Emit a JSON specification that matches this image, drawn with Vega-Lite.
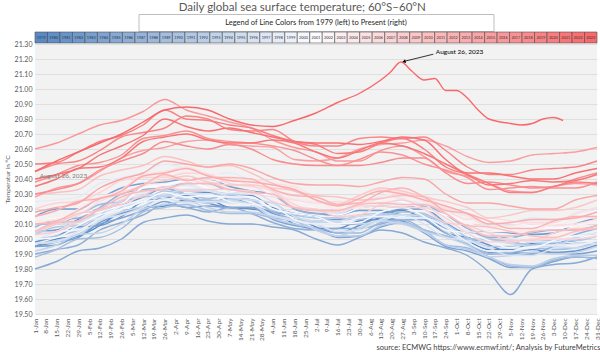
{
"$schema":"https://vega.github.io/schema/vega-lite/v6.json",
"background":"white",
"padding":{"left":4,"right":3,"top":2,"bottom":2},
"config":{"font":"Lato","view":{"stroke":null},"axis":{"labelOverlap":false}},
"title":{"text":"Daily global sea surface temperature; 60°S–60°N","fontSize":11.5,"fontWeight":"normal","color":"#595959","anchor":"middle","offset":0},
"bounds":"flush",
"center":true,
"spacing":1,
"datasets":{"sst":[
{"yr":1979,"d":1,"t":19.95},{"yr":1979,"d":15,"t":20.00},{"yr":1979,"d":29,"t":20.02},{"yr":1979,"d":43,"t":20.09},{"yr":1979,"d":57,"t":20.18},{"yr":1979,"d":71,"t":20.21},{"yr":1979,"d":85,"t":20.22},{"yr":1979,"d":99,"t":20.26},{"yr":1979,"d":113,"t":20.26},{"yr":1979,"d":127,"t":20.21},{"yr":1979,"d":141,"t":20.20},{"yr":1979,"d":155,"t":20.18},{"yr":1979,"d":169,"t":20.10},{"yr":1979,"d":183,"t":20.07},{"yr":1979,"d":197,"t":20.07},{"yr":1979,"d":211,"t":20.12},{"yr":1979,"d":225,"t":20.13},{"yr":1979,"d":239,"t":20.13},{"yr":1979,"d":253,"t":20.13},{"yr":1979,"d":267,"t":20.07},{"yr":1979,"d":281,"t":19.99},{"yr":1979,"d":295,"t":19.93},{"yr":1979,"d":309,"t":19.93},{"yr":1979,"d":323,"t":19.97},{"yr":1979,"d":337,"t":19.98},{"yr":1979,"d":351,"t":19.99},{"yr":1979,"d":365,"t":20.02},
{"yr":1980,"d":1,"t":20.05},{"yr":1980,"d":15,"t":20.06},{"yr":1980,"d":29,"t":20.13},{"yr":1980,"d":43,"t":20.20},{"yr":1980,"d":57,"t":20.23},{"yr":1980,"d":71,"t":20.28},{"yr":1980,"d":85,"t":20.34},{"yr":1980,"d":99,"t":20.30},{"yr":1980,"d":113,"t":20.31},{"yr":1980,"d":127,"t":20.30},{"yr":1980,"d":141,"t":20.29},{"yr":1980,"d":155,"t":20.21},{"yr":1980,"d":169,"t":20.17},{"yr":1980,"d":183,"t":20.15},{"yr":1980,"d":197,"t":20.10},{"yr":1980,"d":211,"t":20.10},{"yr":1980,"d":225,"t":20.17},{"yr":1980,"d":239,"t":20.19},{"yr":1980,"d":253,"t":20.13},{"yr":1980,"d":267,"t":20.04},{"yr":1980,"d":281,"t":20.01},{"yr":1980,"d":295,"t":19.96},{"yr":1980,"d":309,"t":19.91},{"yr":1980,"d":323,"t":19.90},{"yr":1980,"d":337,"t":19.95},{"yr":1980,"d":351,"t":19.97},{"yr":1980,"d":365,"t":19.97},
{"yr":1981,"d":1,"t":19.98},{"yr":1981,"d":15,"t":20.02},{"yr":1981,"d":29,"t":20.08},{"yr":1981,"d":43,"t":20.09},{"yr":1981,"d":57,"t":20.15},{"yr":1981,"d":71,"t":20.25},{"yr":1981,"d":85,"t":20.27},{"yr":1981,"d":99,"t":20.29},{"yr":1981,"d":113,"t":20.24},{"yr":1981,"d":127,"t":20.21},{"yr":1981,"d":141,"t":20.21},{"yr":1981,"d":155,"t":20.18},{"yr":1981,"d":169,"t":20.15},{"yr":1981,"d":183,"t":20.08},{"yr":1981,"d":197,"t":20.04},{"yr":1981,"d":211,"t":20.09},{"yr":1981,"d":225,"t":20.14},{"yr":1981,"d":239,"t":20.12},{"yr":1981,"d":253,"t":20.06},{"yr":1981,"d":267,"t":20.02},{"yr":1981,"d":281,"t":19.97},{"yr":1981,"d":295,"t":19.90},{"yr":1981,"d":309,"t":19.91},{"yr":1981,"d":323,"t":19.93},{"yr":1981,"d":337,"t":19.91},{"yr":1981,"d":351,"t":19.92},{"yr":1981,"d":365,"t":19.96},
{"yr":1982,"d":1,"t":19.95},{"yr":1982,"d":15,"t":19.98},{"yr":1982,"d":29,"t":20.01},{"yr":1982,"d":43,"t":20.11},{"yr":1982,"d":57,"t":20.17},{"yr":1982,"d":71,"t":20.21},{"yr":1982,"d":85,"t":20.29},{"yr":1982,"d":99,"t":20.26},{"yr":1982,"d":113,"t":20.24},{"yr":1982,"d":127,"t":20.27},{"yr":1982,"d":141,"t":20.23},{"yr":1982,"d":155,"t":20.17},{"yr":1982,"d":169,"t":20.13},{"yr":1982,"d":183,"t":20.12},{"yr":1982,"d":197,"t":20.13},{"yr":1982,"d":211,"t":20.13},{"yr":1982,"d":225,"t":20.16},{"yr":1982,"d":239,"t":20.20},{"yr":1982,"d":253,"t":20.20},{"yr":1982,"d":267,"t":20.11},{"yr":1982,"d":281,"t":20.04},{"yr":1982,"d":295,"t":20.05},{"yr":1982,"d":309,"t":20.04},{"yr":1982,"d":323,"t":20.03},{"yr":1982,"d":337,"t":20.04},{"yr":1982,"d":351,"t":20.10},{"yr":1982,"d":365,"t":20.14},
{"yr":1983,"d":1,"t":20.15},{"yr":1983,"d":15,"t":20.20},{"yr":1983,"d":29,"t":20.20},{"yr":1983,"d":43,"t":20.27},{"yr":1983,"d":57,"t":20.34},{"yr":1983,"d":71,"t":20.37},{"yr":1983,"d":85,"t":20.38},{"yr":1983,"d":99,"t":20.40},{"yr":1983,"d":113,"t":20.40},{"yr":1983,"d":127,"t":20.35},{"yr":1983,"d":141,"t":20.32},{"yr":1983,"d":155,"t":20.30},{"yr":1983,"d":169,"t":20.20},{"yr":1983,"d":183,"t":20.17},{"yr":1983,"d":197,"t":20.16},{"yr":1983,"d":211,"t":20.19},{"yr":1983,"d":225,"t":20.19},{"yr":1983,"d":239,"t":20.16},{"yr":1983,"d":253,"t":20.15},{"yr":1983,"d":267,"t":20.08},{"yr":1983,"d":281,"t":19.98},{"yr":1983,"d":295,"t":19.91},{"yr":1983,"d":309,"t":19.90},{"yr":1983,"d":323,"t":19.91},{"yr":1983,"d":337,"t":19.91},{"yr":1983,"d":351,"t":19.90},{"yr":1983,"d":365,"t":19.92},
{"yr":1984,"d":1,"t":19.95},{"yr":1984,"d":15,"t":19.96},{"yr":1984,"d":29,"t":20.03},{"yr":1984,"d":43,"t":20.10},{"yr":1984,"d":57,"t":20.14},{"yr":1984,"d":71,"t":20.19},{"yr":1984,"d":85,"t":20.25},{"yr":1984,"d":99,"t":20.21},{"yr":1984,"d":113,"t":20.22},{"yr":1984,"d":127,"t":20.21},{"yr":1984,"d":141,"t":20.21},{"yr":1984,"d":155,"t":20.13},{"yr":1984,"d":169,"t":20.09},{"yr":1984,"d":183,"t":20.07},{"yr":1984,"d":197,"t":20.01},{"yr":1984,"d":211,"t":20.02},{"yr":1984,"d":225,"t":20.08},{"yr":1984,"d":239,"t":20.11},{"yr":1984,"d":253,"t":20.04},{"yr":1984,"d":267,"t":19.95},{"yr":1984,"d":281,"t":19.92},{"yr":1984,"d":295,"t":19.87},{"yr":1984,"d":309,"t":19.81},{"yr":1984,"d":323,"t":19.81},{"yr":1984,"d":337,"t":19.85},{"yr":1984,"d":351,"t":19.88},{"yr":1984,"d":365,"t":19.87},
{"yr":1985,"d":1,"t":19.80},{"yr":1985,"d":15,"t":19.85},{"yr":1985,"d":29,"t":19.92},{"yr":1985,"d":43,"t":19.94},{"yr":1985,"d":57,"t":20.00},{"yr":1985,"d":71,"t":20.11},{"yr":1985,"d":85,"t":20.14},{"yr":1985,"d":99,"t":20.16},{"yr":1985,"d":113,"t":20.12},{"yr":1985,"d":127,"t":20.10},{"yr":1985,"d":141,"t":20.10},{"yr":1985,"d":155,"t":20.08},{"yr":1985,"d":169,"t":20.06},{"yr":1985,"d":183,"t":20.00},{"yr":1985,"d":197,"t":19.96},{"yr":1985,"d":211,"t":20.01},{"yr":1985,"d":225,"t":20.06},{"yr":1985,"d":239,"t":20.04},{"yr":1985,"d":253,"t":19.98},{"yr":1985,"d":267,"t":19.94},{"yr":1985,"d":281,"t":19.89},{"yr":1985,"d":295,"t":19.78},{"yr":1985,"d":309,"t":19.63},{"yr":1985,"d":323,"t":19.80},{"yr":1985,"d":337,"t":19.83},{"yr":1985,"d":351,"t":19.84},{"yr":1985,"d":365,"t":19.88},
{"yr":1986,"d":1,"t":19.90},{"yr":1986,"d":15,"t":19.93},{"yr":1986,"d":29,"t":19.96},{"yr":1986,"d":43,"t":20.06},{"yr":1986,"d":57,"t":20.11},{"yr":1986,"d":71,"t":20.16},{"yr":1986,"d":85,"t":20.23},{"yr":1986,"d":99,"t":20.21},{"yr":1986,"d":113,"t":20.18},{"yr":1986,"d":127,"t":20.21},{"yr":1986,"d":141,"t":20.17},{"yr":1986,"d":155,"t":20.11},{"yr":1986,"d":169,"t":20.07},{"yr":1986,"d":183,"t":20.06},{"yr":1986,"d":197,"t":20.07},{"yr":1986,"d":211,"t":20.07},{"yr":1986,"d":225,"t":20.10},{"yr":1986,"d":239,"t":20.13},{"yr":1986,"d":253,"t":20.13},{"yr":1986,"d":267,"t":20.04},{"yr":1986,"d":281,"t":19.98},{"yr":1986,"d":295,"t":19.99},{"yr":1986,"d":309,"t":19.98},{"yr":1986,"d":323,"t":19.96},{"yr":1986,"d":337,"t":19.97},{"yr":1986,"d":351,"t":20.03},{"yr":1986,"d":365,"t":20.07},
{"yr":1987,"d":1,"t":20.08},{"yr":1987,"d":15,"t":20.13},{"yr":1987,"d":29,"t":20.14},{"yr":1987,"d":43,"t":20.21},{"yr":1987,"d":57,"t":20.30},{"yr":1987,"d":71,"t":20.33},{"yr":1987,"d":85,"t":20.34},{"yr":1987,"d":99,"t":20.37},{"yr":1987,"d":113,"t":20.37},{"yr":1987,"d":127,"t":20.32},{"yr":1987,"d":141,"t":20.31},{"yr":1987,"d":155,"t":20.29},{"yr":1987,"d":169,"t":20.20},{"yr":1987,"d":183,"t":20.17},{"yr":1987,"d":197,"t":20.17},{"yr":1987,"d":211,"t":20.21},{"yr":1987,"d":225,"t":20.22},{"yr":1987,"d":239,"t":20.21},{"yr":1987,"d":253,"t":20.22},{"yr":1987,"d":267,"t":20.16},{"yr":1987,"d":281,"t":20.07},{"yr":1987,"d":295,"t":20.01},{"yr":1987,"d":309,"t":20.01},{"yr":1987,"d":323,"t":20.04},{"yr":1987,"d":337,"t":20.06},{"yr":1987,"d":351,"t":20.06},{"yr":1987,"d":365,"t":20.09},
{"yr":1988,"d":1,"t":20.10},{"yr":1988,"d":15,"t":20.10},{"yr":1988,"d":29,"t":20.16},{"yr":1988,"d":43,"t":20.23},{"yr":1988,"d":57,"t":20.25},{"yr":1988,"d":71,"t":20.29},{"yr":1988,"d":85,"t":20.34},{"yr":1988,"d":99,"t":20.30},{"yr":1988,"d":113,"t":20.30},{"yr":1988,"d":127,"t":20.28},{"yr":1988,"d":141,"t":20.26},{"yr":1988,"d":155,"t":20.18},{"yr":1988,"d":169,"t":20.13},{"yr":1988,"d":183,"t":20.10},{"yr":1988,"d":197,"t":20.04},{"yr":1988,"d":211,"t":20.04},{"yr":1988,"d":225,"t":20.11},{"yr":1988,"d":239,"t":20.13},{"yr":1988,"d":253,"t":20.06},{"yr":1988,"d":267,"t":19.96},{"yr":1988,"d":281,"t":19.94},{"yr":1988,"d":295,"t":19.88},{"yr":1988,"d":309,"t":19.82},{"yr":1988,"d":323,"t":19.81},{"yr":1988,"d":337,"t":19.86},{"yr":1988,"d":351,"t":19.88},{"yr":1988,"d":365,"t":19.87},
{"yr":1989,"d":1,"t":19.88},{"yr":1989,"d":15,"t":19.93},{"yr":1989,"d":29,"t":20.00},{"yr":1989,"d":43,"t":20.01},{"yr":1989,"d":57,"t":20.07},{"yr":1989,"d":71,"t":20.18},{"yr":1989,"d":85,"t":20.21},{"yr":1989,"d":99,"t":20.23},{"yr":1989,"d":113,"t":20.19},{"yr":1989,"d":127,"t":20.17},{"yr":1989,"d":141,"t":20.17},{"yr":1989,"d":155,"t":20.14},{"yr":1989,"d":169,"t":20.12},{"yr":1989,"d":183,"t":20.06},{"yr":1989,"d":197,"t":20.02},{"yr":1989,"d":211,"t":20.07},{"yr":1989,"d":225,"t":20.12},{"yr":1989,"d":239,"t":20.11},{"yr":1989,"d":253,"t":20.06},{"yr":1989,"d":267,"t":20.02},{"yr":1989,"d":281,"t":19.97},{"yr":1989,"d":295,"t":19.90},{"yr":1989,"d":309,"t":19.91},{"yr":1989,"d":323,"t":19.94},{"yr":1989,"d":337,"t":19.93},{"yr":1989,"d":351,"t":19.94},{"yr":1989,"d":365,"t":19.98},
{"yr":1990,"d":1,"t":20.00},{"yr":1990,"d":15,"t":20.02},{"yr":1990,"d":29,"t":20.06},{"yr":1990,"d":43,"t":20.15},{"yr":1990,"d":57,"t":20.21},{"yr":1990,"d":71,"t":20.25},{"yr":1990,"d":85,"t":20.32},{"yr":1990,"d":99,"t":20.30},{"yr":1990,"d":113,"t":20.27},{"yr":1990,"d":127,"t":20.29},{"yr":1990,"d":141,"t":20.26},{"yr":1990,"d":155,"t":20.19},{"yr":1990,"d":169,"t":20.16},{"yr":1990,"d":183,"t":20.14},{"yr":1990,"d":197,"t":20.14},{"yr":1990,"d":211,"t":20.13},{"yr":1990,"d":225,"t":20.15},{"yr":1990,"d":239,"t":20.18},{"yr":1990,"d":253,"t":20.17},{"yr":1990,"d":267,"t":20.07},{"yr":1990,"d":281,"t":20.00},{"yr":1990,"d":295,"t":20.00},{"yr":1990,"d":309,"t":19.98},{"yr":1990,"d":323,"t":19.96},{"yr":1990,"d":337,"t":19.96},{"yr":1990,"d":351,"t":20.01},{"yr":1990,"d":365,"t":20.04},
{"yr":1991,"d":1,"t":20.03},{"yr":1991,"d":15,"t":20.08},{"yr":1991,"d":29,"t":20.09},{"yr":1991,"d":43,"t":20.16},{"yr":1991,"d":57,"t":20.25},{"yr":1991,"d":71,"t":20.28},{"yr":1991,"d":85,"t":20.29},{"yr":1991,"d":99,"t":20.32},{"yr":1991,"d":113,"t":20.32},{"yr":1991,"d":127,"t":20.27},{"yr":1991,"d":141,"t":20.26},{"yr":1991,"d":155,"t":20.24},{"yr":1991,"d":169,"t":20.15},{"yr":1991,"d":183,"t":20.12},{"yr":1991,"d":197,"t":20.12},{"yr":1991,"d":211,"t":20.16},{"yr":1991,"d":225,"t":20.17},{"yr":1991,"d":239,"t":20.16},{"yr":1991,"d":253,"t":20.16},{"yr":1991,"d":267,"t":20.10},{"yr":1991,"d":281,"t":20.01},{"yr":1991,"d":295,"t":19.95},{"yr":1991,"d":309,"t":19.95},{"yr":1991,"d":323,"t":19.98},{"yr":1991,"d":337,"t":19.99},{"yr":1991,"d":351,"t":19.99},{"yr":1991,"d":365,"t":20.02},
{"yr":1992,"d":1,"t":20.05},{"yr":1992,"d":15,"t":20.05},{"yr":1992,"d":29,"t":20.12},{"yr":1992,"d":43,"t":20.18},{"yr":1992,"d":57,"t":20.21},{"yr":1992,"d":71,"t":20.25},{"yr":1992,"d":85,"t":20.30},{"yr":1992,"d":99,"t":20.26},{"yr":1992,"d":113,"t":20.26},{"yr":1992,"d":127,"t":20.25},{"yr":1992,"d":141,"t":20.23},{"yr":1992,"d":155,"t":20.14},{"yr":1992,"d":169,"t":20.10},{"yr":1992,"d":183,"t":20.07},{"yr":1992,"d":197,"t":20.02},{"yr":1992,"d":211,"t":20.02},{"yr":1992,"d":225,"t":20.09},{"yr":1992,"d":239,"t":20.11},{"yr":1992,"d":253,"t":20.05},{"yr":1992,"d":267,"t":19.96},{"yr":1992,"d":281,"t":19.93},{"yr":1992,"d":295,"t":19.88},{"yr":1992,"d":309,"t":19.83},{"yr":1992,"d":323,"t":19.82},{"yr":1992,"d":337,"t":19.87},{"yr":1992,"d":351,"t":19.89},{"yr":1992,"d":365,"t":19.89},
{"yr":1993,"d":1,"t":19.92},{"yr":1993,"d":15,"t":19.96},{"yr":1993,"d":29,"t":20.03},{"yr":1993,"d":43,"t":20.04},{"yr":1993,"d":57,"t":20.10},{"yr":1993,"d":71,"t":20.20},{"yr":1993,"d":85,"t":20.23},{"yr":1993,"d":99,"t":20.25},{"yr":1993,"d":113,"t":20.21},{"yr":1993,"d":127,"t":20.18},{"yr":1993,"d":141,"t":20.18},{"yr":1993,"d":155,"t":20.15},{"yr":1993,"d":169,"t":20.13},{"yr":1993,"d":183,"t":20.06},{"yr":1993,"d":197,"t":20.02},{"yr":1993,"d":211,"t":20.07},{"yr":1993,"d":225,"t":20.12},{"yr":1993,"d":239,"t":20.10},{"yr":1993,"d":253,"t":20.05},{"yr":1993,"d":267,"t":20.01},{"yr":1993,"d":281,"t":19.96},{"yr":1993,"d":295,"t":19.88},{"yr":1993,"d":309,"t":19.89},{"yr":1993,"d":323,"t":19.91},{"yr":1993,"d":337,"t":19.90},{"yr":1993,"d":351,"t":19.91},{"yr":1993,"d":365,"t":19.95},
{"yr":1994,"d":1,"t":19.97},{"yr":1994,"d":15,"t":19.99},{"yr":1994,"d":29,"t":20.03},{"yr":1994,"d":43,"t":20.12},{"yr":1994,"d":57,"t":20.18},{"yr":1994,"d":71,"t":20.22},{"yr":1994,"d":85,"t":20.29},{"yr":1994,"d":99,"t":20.27},{"yr":1994,"d":113,"t":20.24},{"yr":1994,"d":127,"t":20.26},{"yr":1994,"d":141,"t":20.23},{"yr":1994,"d":155,"t":20.16},{"yr":1994,"d":169,"t":20.13},{"yr":1994,"d":183,"t":20.11},{"yr":1994,"d":197,"t":20.11},{"yr":1994,"d":211,"t":20.10},{"yr":1994,"d":225,"t":20.12},{"yr":1994,"d":239,"t":20.16},{"yr":1994,"d":253,"t":20.15},{"yr":1994,"d":267,"t":20.05},{"yr":1994,"d":281,"t":19.98},{"yr":1994,"d":295,"t":19.99},{"yr":1994,"d":309,"t":19.97},{"yr":1994,"d":323,"t":19.95},{"yr":1994,"d":337,"t":19.95},{"yr":1994,"d":351,"t":20.01},{"yr":1994,"d":365,"t":20.04},
{"yr":1995,"d":1,"t":20.05},{"yr":1995,"d":15,"t":20.10},{"yr":1995,"d":29,"t":20.11},{"yr":1995,"d":43,"t":20.18},{"yr":1995,"d":57,"t":20.26},{"yr":1995,"d":71,"t":20.29},{"yr":1995,"d":85,"t":20.30},{"yr":1995,"d":99,"t":20.33},{"yr":1995,"d":113,"t":20.33},{"yr":1995,"d":127,"t":20.28},{"yr":1995,"d":141,"t":20.26},{"yr":1995,"d":155,"t":20.24},{"yr":1995,"d":169,"t":20.15},{"yr":1995,"d":183,"t":20.12},{"yr":1995,"d":197,"t":20.12},{"yr":1995,"d":211,"t":20.15},{"yr":1995,"d":225,"t":20.16},{"yr":1995,"d":239,"t":20.14},{"yr":1995,"d":253,"t":20.14},{"yr":1995,"d":267,"t":20.08},{"yr":1995,"d":281,"t":19.98},{"yr":1995,"d":295,"t":19.92},{"yr":1995,"d":309,"t":19.92},{"yr":1995,"d":323,"t":19.94},{"yr":1995,"d":337,"t":19.95},{"yr":1995,"d":351,"t":19.94},{"yr":1995,"d":365,"t":19.97},
{"yr":1996,"d":1,"t":19.97},{"yr":1996,"d":15,"t":19.98},{"yr":1996,"d":29,"t":20.05},{"yr":1996,"d":43,"t":20.13},{"yr":1996,"d":57,"t":20.16},{"yr":1996,"d":71,"t":20.21},{"yr":1996,"d":85,"t":20.27},{"yr":1996,"d":99,"t":20.24},{"yr":1996,"d":113,"t":20.25},{"yr":1996,"d":127,"t":20.24},{"yr":1996,"d":141,"t":20.23},{"yr":1996,"d":155,"t":20.16},{"yr":1996,"d":169,"t":20.12},{"yr":1996,"d":183,"t":20.10},{"yr":1996,"d":197,"t":20.05},{"yr":1996,"d":211,"t":20.06},{"yr":1996,"d":225,"t":20.13},{"yr":1996,"d":239,"t":20.16},{"yr":1996,"d":253,"t":20.10},{"yr":1996,"d":267,"t":20.01},{"yr":1996,"d":281,"t":19.99},{"yr":1996,"d":295,"t":19.94},{"yr":1996,"d":309,"t":19.89},{"yr":1996,"d":323,"t":19.89},{"yr":1996,"d":337,"t":19.94},{"yr":1996,"d":351,"t":19.97},{"yr":1996,"d":365,"t":19.97},
{"yr":1997,"d":1,"t":20.00},{"yr":1997,"d":15,"t":20.05},{"yr":1997,"d":29,"t":20.12},{"yr":1997,"d":43,"t":20.14},{"yr":1997,"d":57,"t":20.20},{"yr":1997,"d":71,"t":20.31},{"yr":1997,"d":85,"t":20.34},{"yr":1997,"d":99,"t":20.36},{"yr":1997,"d":113,"t":20.32},{"yr":1997,"d":127,"t":20.30},{"yr":1997,"d":141,"t":20.30},{"yr":1997,"d":155,"t":20.28},{"yr":1997,"d":169,"t":20.26},{"yr":1997,"d":183,"t":20.20},{"yr":1997,"d":197,"t":20.17},{"yr":1997,"d":211,"t":20.23},{"yr":1997,"d":225,"t":20.28},{"yr":1997,"d":239,"t":20.27},{"yr":1997,"d":253,"t":20.23},{"yr":1997,"d":267,"t":20.20},{"yr":1997,"d":281,"t":20.15},{"yr":1997,"d":295,"t":20.09},{"yr":1997,"d":309,"t":20.11},{"yr":1997,"d":323,"t":20.14},{"yr":1997,"d":337,"t":20.13},{"yr":1997,"d":351,"t":20.15},{"yr":1997,"d":365,"t":20.20},
{"yr":1998,"d":1,"t":20.25},{"yr":1998,"d":15,"t":20.26},{"yr":1998,"d":29,"t":20.28},{"yr":1998,"d":43,"t":20.37},{"yr":1998,"d":57,"t":20.41},{"yr":1998,"d":71,"t":20.44},{"yr":1998,"d":85,"t":20.50},{"yr":1998,"d":99,"t":20.47},{"yr":1998,"d":113,"t":20.43},{"yr":1998,"d":127,"t":20.44},{"yr":1998,"d":141,"t":20.39},{"yr":1998,"d":155,"t":20.32},{"yr":1998,"d":169,"t":20.27},{"yr":1998,"d":183,"t":20.24},{"yr":1998,"d":197,"t":20.23},{"yr":1998,"d":211,"t":20.21},{"yr":1998,"d":225,"t":20.23},{"yr":1998,"d":239,"t":20.25},{"yr":1998,"d":253,"t":20.23},{"yr":1998,"d":267,"t":20.12},{"yr":1998,"d":281,"t":20.05},{"yr":1998,"d":295,"t":20.04},{"yr":1998,"d":309,"t":20.01},{"yr":1998,"d":323,"t":19.98},{"yr":1998,"d":337,"t":19.98},{"yr":1998,"d":351,"t":20.02},{"yr":1998,"d":365,"t":20.04},
{"yr":1999,"d":1,"t":20.00},{"yr":1999,"d":15,"t":20.05},{"yr":1999,"d":29,"t":20.06},{"yr":1999,"d":43,"t":20.14},{"yr":1999,"d":57,"t":20.22},{"yr":1999,"d":71,"t":20.25},{"yr":1999,"d":85,"t":20.26},{"yr":1999,"d":99,"t":20.30},{"yr":1999,"d":113,"t":20.30},{"yr":1999,"d":127,"t":20.25},{"yr":1999,"d":141,"t":20.23},{"yr":1999,"d":155,"t":20.22},{"yr":1999,"d":169,"t":20.13},{"yr":1999,"d":183,"t":20.10},{"yr":1999,"d":197,"t":20.10},{"yr":1999,"d":211,"t":20.14},{"yr":1999,"d":225,"t":20.15},{"yr":1999,"d":239,"t":20.14},{"yr":1999,"d":253,"t":20.14},{"yr":1999,"d":267,"t":20.08},{"yr":1999,"d":281,"t":19.98},{"yr":1999,"d":295,"t":19.92},{"yr":1999,"d":309,"t":19.92},{"yr":1999,"d":323,"t":19.95},{"yr":1999,"d":337,"t":19.96},{"yr":1999,"d":351,"t":19.96},{"yr":1999,"d":365,"t":19.99},
{"yr":2000,"d":1,"t":20.00},{"yr":2000,"d":15,"t":20.01},{"yr":2000,"d":29,"t":20.09},{"yr":2000,"d":43,"t":20.16},{"yr":2000,"d":57,"t":20.20},{"yr":2000,"d":71,"t":20.25},{"yr":2000,"d":85,"t":20.31},{"yr":2000,"d":99,"t":20.28},{"yr":2000,"d":113,"t":20.29},{"yr":2000,"d":127,"t":20.28},{"yr":2000,"d":141,"t":20.28},{"yr":2000,"d":155,"t":20.20},{"yr":2000,"d":169,"t":20.17},{"yr":2000,"d":183,"t":20.15},{"yr":2000,"d":197,"t":20.10},{"yr":2000,"d":211,"t":20.11},{"yr":2000,"d":225,"t":20.18},{"yr":2000,"d":239,"t":20.21},{"yr":2000,"d":253,"t":20.15},{"yr":2000,"d":267,"t":20.06},{"yr":2000,"d":281,"t":20.04},{"yr":2000,"d":295,"t":19.99},{"yr":2000,"d":309,"t":19.94},{"yr":2000,"d":323,"t":19.94},{"yr":2000,"d":337,"t":19.99},{"yr":2000,"d":351,"t":20.02},{"yr":2000,"d":365,"t":20.02},
{"yr":2001,"d":1,"t":20.05},{"yr":2001,"d":15,"t":20.10},{"yr":2001,"d":29,"t":20.16},{"yr":2001,"d":43,"t":20.18},{"yr":2001,"d":57,"t":20.23},{"yr":2001,"d":71,"t":20.34},{"yr":2001,"d":85,"t":20.36},{"yr":2001,"d":99,"t":20.39},{"yr":2001,"d":113,"t":20.34},{"yr":2001,"d":127,"t":20.32},{"yr":2001,"d":141,"t":20.31},{"yr":2001,"d":155,"t":20.29},{"yr":2001,"d":169,"t":20.26},{"yr":2001,"d":183,"t":20.20},{"yr":2001,"d":197,"t":20.16},{"yr":2001,"d":211,"t":20.21},{"yr":2001,"d":225,"t":20.27},{"yr":2001,"d":239,"t":20.25},{"yr":2001,"d":253,"t":20.20},{"yr":2001,"d":267,"t":20.16},{"yr":2001,"d":281,"t":20.11},{"yr":2001,"d":295,"t":20.05},{"yr":2001,"d":309,"t":20.06},{"yr":2001,"d":323,"t":20.08},{"yr":2001,"d":337,"t":20.07},{"yr":2001,"d":351,"t":20.09},{"yr":2001,"d":365,"t":20.13},
{"yr":2002,"d":1,"t":20.12},{"yr":2002,"d":15,"t":20.14},{"yr":2002,"d":29,"t":20.17},{"yr":2002,"d":43,"t":20.27},{"yr":2002,"d":57,"t":20.32},{"yr":2002,"d":71,"t":20.36},{"yr":2002,"d":85,"t":20.43},{"yr":2002,"d":99,"t":20.41},{"yr":2002,"d":113,"t":20.38},{"yr":2002,"d":127,"t":20.40},{"yr":2002,"d":141,"t":20.36},{"yr":2002,"d":155,"t":20.30},{"yr":2002,"d":169,"t":20.26},{"yr":2002,"d":183,"t":20.24},{"yr":2002,"d":197,"t":20.24},{"yr":2002,"d":211,"t":20.24},{"yr":2002,"d":225,"t":20.26},{"yr":2002,"d":239,"t":20.29},{"yr":2002,"d":253,"t":20.29},{"yr":2002,"d":267,"t":20.19},{"yr":2002,"d":281,"t":20.12},{"yr":2002,"d":295,"t":20.13},{"yr":2002,"d":309,"t":20.11},{"yr":2002,"d":323,"t":20.09},{"yr":2002,"d":337,"t":20.10},{"yr":2002,"d":351,"t":20.15},{"yr":2002,"d":365,"t":20.19},
{"yr":2003,"d":1,"t":20.20},{"yr":2003,"d":15,"t":20.25},{"yr":2003,"d":29,"t":20.25},{"yr":2003,"d":43,"t":20.32},{"yr":2003,"d":57,"t":20.39},{"yr":2003,"d":71,"t":20.42},{"yr":2003,"d":85,"t":20.43},{"yr":2003,"d":99,"t":20.45},{"yr":2003,"d":113,"t":20.45},{"yr":2003,"d":127,"t":20.40},{"yr":2003,"d":141,"t":20.37},{"yr":2003,"d":155,"t":20.35},{"yr":2003,"d":169,"t":20.25},{"yr":2003,"d":183,"t":20.22},{"yr":2003,"d":197,"t":20.22},{"yr":2003,"d":211,"t":20.26},{"yr":2003,"d":225,"t":20.27},{"yr":2003,"d":239,"t":20.26},{"yr":2003,"d":253,"t":20.26},{"yr":2003,"d":267,"t":20.20},{"yr":2003,"d":281,"t":20.11},{"yr":2003,"d":295,"t":20.05},{"yr":2003,"d":309,"t":20.05},{"yr":2003,"d":323,"t":20.08},{"yr":2003,"d":337,"t":20.09},{"yr":2003,"d":351,"t":20.09},{"yr":2003,"d":365,"t":20.12},
{"yr":2004,"d":1,"t":20.12},{"yr":2004,"d":15,"t":20.13},{"yr":2004,"d":29,"t":20.20},{"yr":2004,"d":43,"t":20.28},{"yr":2004,"d":57,"t":20.31},{"yr":2004,"d":71,"t":20.36},{"yr":2004,"d":85,"t":20.42},{"yr":2004,"d":99,"t":20.39},{"yr":2004,"d":113,"t":20.40},{"yr":2004,"d":127,"t":20.39},{"yr":2004,"d":141,"t":20.38},{"yr":2004,"d":155,"t":20.31},{"yr":2004,"d":169,"t":20.27},{"yr":2004,"d":183,"t":20.25},{"yr":2004,"d":197,"t":20.20},{"yr":2004,"d":211,"t":20.21},{"yr":2004,"d":225,"t":20.28},{"yr":2004,"d":239,"t":20.31},{"yr":2004,"d":253,"t":20.26},{"yr":2004,"d":267,"t":20.17},{"yr":2004,"d":281,"t":20.15},{"yr":2004,"d":295,"t":20.10},{"yr":2004,"d":309,"t":20.05},{"yr":2004,"d":323,"t":20.05},{"yr":2004,"d":337,"t":20.11},{"yr":2004,"d":351,"t":20.14},{"yr":2004,"d":365,"t":20.14},
{"yr":2005,"d":1,"t":20.15},{"yr":2005,"d":15,"t":20.19},{"yr":2005,"d":29,"t":20.26},{"yr":2005,"d":43,"t":20.27},{"yr":2005,"d":57,"t":20.33},{"yr":2005,"d":71,"t":20.43},{"yr":2005,"d":85,"t":20.45},{"yr":2005,"d":99,"t":20.48},{"yr":2005,"d":113,"t":20.43},{"yr":2005,"d":127,"t":20.40},{"yr":2005,"d":141,"t":20.40},{"yr":2005,"d":155,"t":20.37},{"yr":2005,"d":169,"t":20.35},{"yr":2005,"d":183,"t":20.28},{"yr":2005,"d":197,"t":20.24},{"yr":2005,"d":211,"t":20.29},{"yr":2005,"d":225,"t":20.33},{"yr":2005,"d":239,"t":20.31},{"yr":2005,"d":253,"t":20.25},{"yr":2005,"d":267,"t":20.21},{"yr":2005,"d":281,"t":20.16},{"yr":2005,"d":295,"t":20.08},{"yr":2005,"d":309,"t":20.09},{"yr":2005,"d":323,"t":20.11},{"yr":2005,"d":337,"t":20.09},{"yr":2005,"d":351,"t":20.10},{"yr":2005,"d":365,"t":20.13},
{"yr":2006,"d":1,"t":20.10},{"yr":2006,"d":15,"t":20.12},{"yr":2006,"d":29,"t":20.16},{"yr":2006,"d":43,"t":20.25},{"yr":2006,"d":57,"t":20.31},{"yr":2006,"d":71,"t":20.35},{"yr":2006,"d":85,"t":20.42},{"yr":2006,"d":99,"t":20.40},{"yr":2006,"d":113,"t":20.37},{"yr":2006,"d":127,"t":20.39},{"yr":2006,"d":141,"t":20.36},{"yr":2006,"d":155,"t":20.29},{"yr":2006,"d":169,"t":20.26},{"yr":2006,"d":183,"t":20.24},{"yr":2006,"d":197,"t":20.25},{"yr":2006,"d":211,"t":20.24},{"yr":2006,"d":225,"t":20.27},{"yr":2006,"d":239,"t":20.30},{"yr":2006,"d":253,"t":20.29},{"yr":2006,"d":267,"t":20.20},{"yr":2006,"d":281,"t":20.13},{"yr":2006,"d":295,"t":20.14},{"yr":2006,"d":309,"t":20.12},{"yr":2006,"d":323,"t":20.11},{"yr":2006,"d":337,"t":20.11},{"yr":2006,"d":351,"t":20.17},{"yr":2006,"d":365,"t":20.21},
{"yr":2007,"d":1,"t":20.20},{"yr":2007,"d":15,"t":20.24},{"yr":2007,"d":29,"t":20.25},{"yr":2007,"d":43,"t":20.31},{"yr":2007,"d":57,"t":20.39},{"yr":2007,"d":71,"t":20.41},{"yr":2007,"d":85,"t":20.41},{"yr":2007,"d":99,"t":20.44},{"yr":2007,"d":113,"t":20.43},{"yr":2007,"d":127,"t":20.37},{"yr":2007,"d":141,"t":20.35},{"yr":2007,"d":155,"t":20.32},{"yr":2007,"d":169,"t":20.23},{"yr":2007,"d":183,"t":20.19},{"yr":2007,"d":197,"t":20.18},{"yr":2007,"d":211,"t":20.22},{"yr":2007,"d":225,"t":20.22},{"yr":2007,"d":239,"t":20.21},{"yr":2007,"d":253,"t":20.21},{"yr":2007,"d":267,"t":20.14},{"yr":2007,"d":281,"t":20.04},{"yr":2007,"d":295,"t":19.98},{"yr":2007,"d":309,"t":19.98},{"yr":2007,"d":323,"t":20.00},{"yr":2007,"d":337,"t":20.00},{"yr":2007,"d":351,"t":20.00},{"yr":2007,"d":365,"t":20.02},
{"yr":2008,"d":1,"t":20.03},{"yr":2008,"d":15,"t":20.05},{"yr":2008,"d":29,"t":20.12},{"yr":2008,"d":43,"t":20.20},{"yr":2008,"d":57,"t":20.23},{"yr":2008,"d":71,"t":20.29},{"yr":2008,"d":85,"t":20.35},{"yr":2008,"d":99,"t":20.32},{"yr":2008,"d":113,"t":20.33},{"yr":2008,"d":127,"t":20.33},{"yr":2008,"d":141,"t":20.32},{"yr":2008,"d":155,"t":20.25},{"yr":2008,"d":169,"t":20.21},{"yr":2008,"d":183,"t":20.20},{"yr":2008,"d":197,"t":20.15},{"yr":2008,"d":211,"t":20.16},{"yr":2008,"d":225,"t":20.23},{"yr":2008,"d":239,"t":20.26},{"yr":2008,"d":253,"t":20.20},{"yr":2008,"d":267,"t":20.11},{"yr":2008,"d":281,"t":20.09},{"yr":2008,"d":295,"t":20.04},{"yr":2008,"d":309,"t":19.99},{"yr":2008,"d":323,"t":19.99},{"yr":2008,"d":337,"t":20.04},{"yr":2008,"d":351,"t":20.07},{"yr":2008,"d":365,"t":20.07},
{"yr":2009,"d":1,"t":20.05},{"yr":2009,"d":15,"t":20.10},{"yr":2009,"d":29,"t":20.17},{"yr":2009,"d":43,"t":20.19},{"yr":2009,"d":57,"t":20.25},{"yr":2009,"d":71,"t":20.36},{"yr":2009,"d":85,"t":20.39},{"yr":2009,"d":99,"t":20.42},{"yr":2009,"d":113,"t":20.38},{"yr":2009,"d":127,"t":20.36},{"yr":2009,"d":141,"t":20.36},{"yr":2009,"d":155,"t":20.34},{"yr":2009,"d":169,"t":20.32},{"yr":2009,"d":183,"t":20.26},{"yr":2009,"d":197,"t":20.23},{"yr":2009,"d":211,"t":20.29},{"yr":2009,"d":225,"t":20.34},{"yr":2009,"d":239,"t":20.32},{"yr":2009,"d":253,"t":20.28},{"yr":2009,"d":267,"t":20.25},{"yr":2009,"d":281,"t":20.21},{"yr":2009,"d":295,"t":20.14},{"yr":2009,"d":309,"t":20.16},{"yr":2009,"d":323,"t":20.19},{"yr":2009,"d":337,"t":20.19},{"yr":2009,"d":351,"t":20.21},{"yr":2009,"d":365,"t":20.26},
{"yr":2010,"d":1,"t":20.30},{"yr":2010,"d":15,"t":20.31},{"yr":2010,"d":29,"t":20.33},{"yr":2010,"d":43,"t":20.42},{"yr":2010,"d":57,"t":20.46},{"yr":2010,"d":71,"t":20.49},{"yr":2010,"d":85,"t":20.55},{"yr":2010,"d":99,"t":20.52},{"yr":2010,"d":113,"t":20.48},{"yr":2010,"d":127,"t":20.49},{"yr":2010,"d":141,"t":20.44},{"yr":2010,"d":155,"t":20.37},{"yr":2010,"d":169,"t":20.32},{"yr":2010,"d":183,"t":20.29},{"yr":2010,"d":197,"t":20.28},{"yr":2010,"d":211,"t":20.26},{"yr":2010,"d":225,"t":20.27},{"yr":2010,"d":239,"t":20.29},{"yr":2010,"d":253,"t":20.28},{"yr":2010,"d":267,"t":20.17},{"yr":2010,"d":281,"t":20.09},{"yr":2010,"d":295,"t":20.08},{"yr":2010,"d":309,"t":20.05},{"yr":2010,"d":323,"t":20.02},{"yr":2010,"d":337,"t":20.01},{"yr":2010,"d":351,"t":20.05},{"yr":2010,"d":365,"t":20.07},
{"yr":2011,"d":1,"t":20.05},{"yr":2011,"d":15,"t":20.11},{"yr":2011,"d":29,"t":20.12},{"yr":2011,"d":43,"t":20.20},{"yr":2011,"d":57,"t":20.28},{"yr":2011,"d":71,"t":20.32},{"yr":2011,"d":85,"t":20.33},{"yr":2011,"d":99,"t":20.37},{"yr":2011,"d":113,"t":20.37},{"yr":2011,"d":127,"t":20.33},{"yr":2011,"d":141,"t":20.31},{"yr":2011,"d":155,"t":20.30},{"yr":2011,"d":169,"t":20.21},{"yr":2011,"d":183,"t":20.19},{"yr":2011,"d":197,"t":20.19},{"yr":2011,"d":211,"t":20.23},{"yr":2011,"d":225,"t":20.24},{"yr":2011,"d":239,"t":20.23},{"yr":2011,"d":253,"t":20.23},{"yr":2011,"d":267,"t":20.17},{"yr":2011,"d":281,"t":20.08},{"yr":2011,"d":295,"t":20.02},{"yr":2011,"d":309,"t":20.02},{"yr":2011,"d":323,"t":20.05},{"yr":2011,"d":337,"t":20.06},{"yr":2011,"d":351,"t":20.06},{"yr":2011,"d":365,"t":20.09},
{"yr":2012,"d":1,"t":20.10},{"yr":2012,"d":15,"t":20.12},{"yr":2012,"d":29,"t":20.19},{"yr":2012,"d":43,"t":20.27},{"yr":2012,"d":57,"t":20.30},{"yr":2012,"d":71,"t":20.36},{"yr":2012,"d":85,"t":20.43},{"yr":2012,"d":99,"t":20.39},{"yr":2012,"d":113,"t":20.41},{"yr":2012,"d":127,"t":20.41},{"yr":2012,"d":141,"t":20.40},{"yr":2012,"d":155,"t":20.33},{"yr":2012,"d":169,"t":20.29},{"yr":2012,"d":183,"t":20.28},{"yr":2012,"d":197,"t":20.23},{"yr":2012,"d":211,"t":20.24},{"yr":2012,"d":225,"t":20.31},{"yr":2012,"d":239,"t":20.34},{"yr":2012,"d":253,"t":20.28},{"yr":2012,"d":267,"t":20.19},{"yr":2012,"d":281,"t":20.17},{"yr":2012,"d":295,"t":20.12},{"yr":2012,"d":309,"t":20.07},{"yr":2012,"d":323,"t":20.07},{"yr":2012,"d":337,"t":20.12},{"yr":2012,"d":351,"t":20.15},{"yr":2012,"d":365,"t":20.15},
{"yr":2013,"d":1,"t":20.15},{"yr":2013,"d":15,"t":20.19},{"yr":2013,"d":29,"t":20.25},{"yr":2013,"d":43,"t":20.27},{"yr":2013,"d":57,"t":20.32},{"yr":2013,"d":71,"t":20.42},{"yr":2013,"d":85,"t":20.44},{"yr":2013,"d":99,"t":20.47},{"yr":2013,"d":113,"t":20.42},{"yr":2013,"d":127,"t":20.39},{"yr":2013,"d":141,"t":20.38},{"yr":2013,"d":155,"t":20.36},{"yr":2013,"d":169,"t":20.33},{"yr":2013,"d":183,"t":20.26},{"yr":2013,"d":197,"t":20.22},{"yr":2013,"d":211,"t":20.27},{"yr":2013,"d":225,"t":20.32},{"yr":2013,"d":239,"t":20.30},{"yr":2013,"d":253,"t":20.26},{"yr":2013,"d":267,"t":20.22},{"yr":2013,"d":281,"t":20.17},{"yr":2013,"d":295,"t":20.10},{"yr":2013,"d":309,"t":20.11},{"yr":2013,"d":323,"t":20.13},{"yr":2013,"d":337,"t":20.13},{"yr":2013,"d":351,"t":20.14},{"yr":2013,"d":365,"t":20.18},
{"yr":2014,"d":1,"t":20.18},{"yr":2014,"d":15,"t":20.21},{"yr":2014,"d":29,"t":20.24},{"yr":2014,"d":43,"t":20.34},{"yr":2014,"d":57,"t":20.40},{"yr":2014,"d":71,"t":20.44},{"yr":2014,"d":85,"t":20.52},{"yr":2014,"d":99,"t":20.50},{"yr":2014,"d":113,"t":20.48},{"yr":2014,"d":127,"t":20.50},{"yr":2014,"d":141,"t":20.47},{"yr":2014,"d":155,"t":20.41},{"yr":2014,"d":169,"t":20.37},{"yr":2014,"d":183,"t":20.36},{"yr":2014,"d":197,"t":20.36},{"yr":2014,"d":211,"t":20.35},{"yr":2014,"d":225,"t":20.38},{"yr":2014,"d":239,"t":20.41},{"yr":2014,"d":253,"t":20.40},{"yr":2014,"d":267,"t":20.30},{"yr":2014,"d":281,"t":20.24},{"yr":2014,"d":295,"t":20.24},{"yr":2014,"d":309,"t":20.22},{"yr":2014,"d":323,"t":20.20},{"yr":2014,"d":337,"t":20.20},{"yr":2014,"d":351,"t":20.26},{"yr":2014,"d":365,"t":20.29},
{"yr":2015,"d":1,"t":20.28},{"yr":2015,"d":15,"t":20.34},{"yr":2015,"d":29,"t":20.37},{"yr":2015,"d":43,"t":20.45},{"yr":2015,"d":57,"t":20.54},{"yr":2015,"d":71,"t":20.59},{"yr":2015,"d":85,"t":20.61},{"yr":2015,"d":99,"t":20.65},{"yr":2015,"d":113,"t":20.66},{"yr":2015,"d":127,"t":20.63},{"yr":2015,"d":141,"t":20.62},{"yr":2015,"d":155,"t":20.61},{"yr":2015,"d":169,"t":20.53},{"yr":2015,"d":183,"t":20.52},{"yr":2015,"d":197,"t":20.54},{"yr":2015,"d":211,"t":20.60},{"yr":2015,"d":225,"t":20.63},{"yr":2015,"d":239,"t":20.64},{"yr":2015,"d":253,"t":20.66},{"yr":2015,"d":267,"t":20.62},{"yr":2015,"d":281,"t":20.55},{"yr":2015,"d":295,"t":20.51},{"yr":2015,"d":309,"t":20.52},{"yr":2015,"d":323,"t":20.56},{"yr":2015,"d":337,"t":20.57},{"yr":2015,"d":351,"t":20.58},{"yr":2015,"d":365,"t":20.61},
{"yr":2016,"d":1,"t":20.60},{"yr":2016,"d":15,"t":20.64},{"yr":2016,"d":29,"t":20.70},{"yr":2016,"d":43,"t":20.76},{"yr":2016,"d":57,"t":20.79},{"yr":2016,"d":71,"t":20.85},{"yr":2016,"d":85,"t":20.93},{"yr":2016,"d":99,"t":20.86},{"yr":2016,"d":113,"t":20.82},{"yr":2016,"d":127,"t":20.78},{"yr":2016,"d":141,"t":20.74},{"yr":2016,"d":155,"t":20.66},{"yr":2016,"d":169,"t":20.61},{"yr":2016,"d":183,"t":20.58},{"yr":2016,"d":197,"t":20.52},{"yr":2016,"d":211,"t":20.52},{"yr":2016,"d":225,"t":20.59},{"yr":2016,"d":239,"t":20.62},{"yr":2016,"d":253,"t":20.55},{"yr":2016,"d":267,"t":20.45},{"yr":2016,"d":281,"t":20.42},{"yr":2016,"d":295,"t":20.37},{"yr":2016,"d":309,"t":20.32},{"yr":2016,"d":323,"t":20.31},{"yr":2016,"d":337,"t":20.35},{"yr":2016,"d":351,"t":20.37},{"yr":2016,"d":365,"t":20.36},
{"yr":2017,"d":1,"t":20.38},{"yr":2017,"d":15,"t":20.43},{"yr":2017,"d":29,"t":20.49},{"yr":2017,"d":43,"t":20.51},{"yr":2017,"d":57,"t":20.56},{"yr":2017,"d":71,"t":20.67},{"yr":2017,"d":85,"t":20.69},{"yr":2017,"d":99,"t":20.72},{"yr":2017,"d":113,"t":20.67},{"yr":2017,"d":127,"t":20.65},{"yr":2017,"d":141,"t":20.64},{"yr":2017,"d":155,"t":20.62},{"yr":2017,"d":169,"t":20.59},{"yr":2017,"d":183,"t":20.53},{"yr":2017,"d":197,"t":20.49},{"yr":2017,"d":211,"t":20.53},{"yr":2017,"d":225,"t":20.58},{"yr":2017,"d":239,"t":20.56},{"yr":2017,"d":253,"t":20.50},{"yr":2017,"d":267,"t":20.46},{"yr":2017,"d":281,"t":20.41},{"yr":2017,"d":295,"t":20.33},{"yr":2017,"d":309,"t":20.34},{"yr":2017,"d":323,"t":20.35},{"yr":2017,"d":337,"t":20.34},{"yr":2017,"d":351,"t":20.34},{"yr":2017,"d":365,"t":20.38},
{"yr":2018,"d":1,"t":20.30},{"yr":2018,"d":15,"t":20.33},{"yr":2018,"d":29,"t":20.37},{"yr":2018,"d":43,"t":20.46},{"yr":2018,"d":57,"t":20.52},{"yr":2018,"d":71,"t":20.57},{"yr":2018,"d":85,"t":20.65},{"yr":2018,"d":99,"t":20.62},{"yr":2018,"d":113,"t":20.60},{"yr":2018,"d":127,"t":20.63},{"yr":2018,"d":141,"t":20.60},{"yr":2018,"d":155,"t":20.53},{"yr":2018,"d":169,"t":20.50},{"yr":2018,"d":183,"t":20.49},{"yr":2018,"d":197,"t":20.49},{"yr":2018,"d":211,"t":20.49},{"yr":2018,"d":225,"t":20.51},{"yr":2018,"d":239,"t":20.54},{"yr":2018,"d":253,"t":20.54},{"yr":2018,"d":267,"t":20.44},{"yr":2018,"d":281,"t":20.37},{"yr":2018,"d":295,"t":20.38},{"yr":2018,"d":309,"t":20.36},{"yr":2018,"d":323,"t":20.34},{"yr":2018,"d":337,"t":20.35},{"yr":2018,"d":351,"t":20.40},{"yr":2018,"d":365,"t":20.44},
{"yr":2019,"d":1,"t":20.45},{"yr":2019,"d":15,"t":20.50},{"yr":2019,"d":29,"t":20.52},{"yr":2019,"d":43,"t":20.59},{"yr":2019,"d":57,"t":20.68},{"yr":2019,"d":71,"t":20.71},{"yr":2019,"d":85,"t":20.74},{"yr":2019,"d":99,"t":20.82},{"yr":2019,"d":113,"t":20.80},{"yr":2019,"d":127,"t":20.73},{"yr":2019,"d":141,"t":20.72},{"yr":2019,"d":155,"t":20.73},{"yr":2019,"d":169,"t":20.65},{"yr":2019,"d":183,"t":20.62},{"yr":2019,"d":197,"t":20.62},{"yr":2019,"d":211,"t":20.67},{"yr":2019,"d":225,"t":20.68},{"yr":2019,"d":239,"t":20.67},{"yr":2019,"d":253,"t":20.68},{"yr":2019,"d":267,"t":20.59},{"yr":2019,"d":281,"t":20.48},{"yr":2019,"d":295,"t":20.43},{"yr":2019,"d":309,"t":20.43},{"yr":2019,"d":323,"t":20.46},{"yr":2019,"d":337,"t":20.47},{"yr":2019,"d":351,"t":20.48},{"yr":2019,"d":365,"t":20.52},
{"yr":2020,"d":1,"t":20.50},{"yr":2020,"d":15,"t":20.51},{"yr":2020,"d":29,"t":20.58},{"yr":2020,"d":43,"t":20.65},{"yr":2020,"d":57,"t":20.69},{"yr":2020,"d":71,"t":20.76},{"yr":2020,"d":85,"t":20.86},{"yr":2020,"d":99,"t":20.80},{"yr":2020,"d":113,"t":20.79},{"yr":2020,"d":127,"t":20.76},{"yr":2020,"d":141,"t":20.74},{"yr":2020,"d":155,"t":20.69},{"yr":2020,"d":169,"t":20.65},{"yr":2020,"d":183,"t":20.63},{"yr":2020,"d":197,"t":20.57},{"yr":2020,"d":211,"t":20.58},{"yr":2020,"d":225,"t":20.64},{"yr":2020,"d":239,"t":20.67},{"yr":2020,"d":253,"t":20.60},{"yr":2020,"d":267,"t":20.48},{"yr":2020,"d":281,"t":20.43},{"yr":2020,"d":295,"t":20.37},{"yr":2020,"d":309,"t":20.31},{"yr":2020,"d":323,"t":20.31},{"yr":2020,"d":337,"t":20.35},{"yr":2020,"d":351,"t":20.38},{"yr":2020,"d":365,"t":20.37},
{"yr":2021,"d":1,"t":20.35},{"yr":2021,"d":15,"t":20.40},{"yr":2021,"d":29,"t":20.47},{"yr":2021,"d":43,"t":20.48},{"yr":2021,"d":57,"t":20.54},{"yr":2021,"d":71,"t":20.65},{"yr":2021,"d":85,"t":20.68},{"yr":2021,"d":99,"t":20.70},{"yr":2021,"d":113,"t":20.66},{"yr":2021,"d":127,"t":20.64},{"yr":2021,"d":141,"t":20.64},{"yr":2021,"d":155,"t":20.66},{"yr":2021,"d":169,"t":20.64},{"yr":2021,"d":183,"t":20.58},{"yr":2021,"d":197,"t":20.54},{"yr":2021,"d":211,"t":20.59},{"yr":2021,"d":225,"t":20.64},{"yr":2021,"d":239,"t":20.62},{"yr":2021,"d":253,"t":20.57},{"yr":2021,"d":267,"t":20.50},{"yr":2021,"d":281,"t":20.43},{"yr":2021,"d":295,"t":20.36},{"yr":2021,"d":309,"t":20.37},{"yr":2021,"d":323,"t":20.39},{"yr":2021,"d":337,"t":20.38},{"yr":2021,"d":351,"t":20.39},{"yr":2021,"d":365,"t":20.43},
{"yr":2022,"d":1,"t":20.40},{"yr":2022,"d":15,"t":20.43},{"yr":2022,"d":29,"t":20.47},{"yr":2022,"d":43,"t":20.56},{"yr":2022,"d":57,"t":20.62},{"yr":2022,"d":71,"t":20.69},{"yr":2022,"d":85,"t":20.80},{"yr":2022,"d":99,"t":20.75},{"yr":2022,"d":113,"t":20.72},{"yr":2022,"d":127,"t":20.74},{"yr":2022,"d":141,"t":20.71},{"yr":2022,"d":155,"t":20.68},{"yr":2022,"d":169,"t":20.65},{"yr":2022,"d":183,"t":20.64},{"yr":2022,"d":197,"t":20.64},{"yr":2022,"d":211,"t":20.63},{"yr":2022,"d":225,"t":20.65},{"yr":2022,"d":239,"t":20.68},{"yr":2022,"d":253,"t":20.66},{"yr":2022,"d":267,"t":20.53},{"yr":2022,"d":281,"t":20.44},{"yr":2022,"d":295,"t":20.44},{"yr":2022,"d":309,"t":20.42},{"yr":2022,"d":323,"t":20.40},{"yr":2022,"d":337,"t":20.40},{"yr":2022,"d":351,"t":20.44},{"yr":2022,"d":365,"t":20.47},
{"yr":2023,"d":1,"t":20.45},{"yr":2023,"d":15,"t":20.52},{"yr":2023,"d":29,"t":20.58},{"yr":2023,"d":43,"t":20.64},{"yr":2023,"d":57,"t":20.70},{"yr":2023,"d":71,"t":20.78},{"yr":2023,"d":85,"t":20.86},{"yr":2023,"d":99,"t":20.88},{"yr":2023,"d":113,"t":20.86},{"yr":2023,"d":127,"t":20.80},{"yr":2023,"d":141,"t":20.76},{"yr":2023,"d":155,"t":20.75},{"yr":2023,"d":169,"t":20.79},{"yr":2023,"d":183,"t":20.84},{"yr":2023,"d":197,"t":20.91},{"yr":2023,"d":211,"t":20.97},{"yr":2023,"d":225,"t":21.06},{"yr":2023,"d":231,"t":21.11},{"yr":2023,"d":238,"t":21.18},{"yr":2023,"d":245,"t":21.12},{"yr":2023,"d":253,"t":21.06},{"yr":2023,"d":260,"t":21.07},{"yr":2023,"d":267,"t":20.99},{"yr":2023,"d":274,"t":20.99},{"yr":2023,"d":281,"t":20.94},{"yr":2023,"d":288,"t":20.86},{"yr":2023,"d":295,"t":20.80},{"yr":2023,"d":309,"t":20.77},{"yr":2023,"d":316,"t":20.76},{"yr":2023,"d":323,"t":20.77},{"yr":2023,"d":330,"t":20.80},{"yr":2023,"d":337,"t":20.81},{"yr":2023,"d":343,"t":20.79}
]},
"vconcat":[
{"width":355,"height":17,"view":{"stroke":"#bfbfbf","fill":"white"},
 "data":{"values":[{"label":"Legend of Line Colors from 1979 (left) to Present (right)"}]},
 "mark":{"type":"text","fontSize":7.5,"color":"#262626"},
 "encoding":{"text":{"field":"label","type":"nominal"}}},
{"width":562,"height":11,"data":{"name":"sst"},
 "transform":[{"aggregate":[{"op":"count","as":"n"}],"groupby":["yr"]}],
 "encoding":{"x":{"field":"yr","type":"ordinal","axis":null,"scale":{"paddingInner":0,"paddingOuter":0}}},
 "layer":[
  {"mark":{"type":"rect","stroke":"#4d4d4d","strokeWidth":0.6},
   "encoding":{"color":{"field":"yr","type":"quantitative","legend":null,"scale":{"domain":[1979,2001,2023],"range":["#5a8ac6","#fcfcff","#f8696b"],"interpolate":"rgb"}}}},
  {"mark":{"type":"text","fontSize":3.8,"color":"#333333"},
   "encoding":{"text":{"field":"yr","type":"nominal"}}}
 ]},
{"width":562,"height":270,"view":{"fill":"#f2f2f2","stroke":null},
 "title":{"text":"source: ECMWG  https://www.ecmwf.int/; Analysis by FutureMetrics","orient":"bottom","anchor":"end","fontSize":7.5,"fontWeight":"normal","color":"#404040","offset":4},
 "encoding":{
  "x":{"field":"d","type":"quantitative","scale":{"domain":[1,365],"nice":false,"zero":false},
   "axis":{"values":[1,8,15,22,29,36,43,50,57,64,71,78,85,92,99,106,113,120,127,134,141,148,155,162,169,176,183,190,197,204,211,218,225,232,239,246,253,260,267,274,281,288,295,302,309,316,323,330,337,344,351,358,365],
    "labelExpr":"timeFormat(datetime(2023,0,datum.value),'%-d-%b')","labelAngle":-90,"labelAlign":"right","labelBaseline":"middle","labelFontSize":6.5,"labelColor":"#595959","ticks":false,"domain":false,"grid":false,"title":null,"labelPadding":4,"labelOverlap":false,"labelBound":false,"labelFlush":false}},
  "y":{"field":"t","type":"quantitative","scale":{"domain":[19.5,21.3],"nice":false,"zero":false},
   "axis":{"values":[19.5,19.6,19.7,19.8,19.9,20.0,20.1,20.2,20.3,20.4,20.5,20.6,20.7,20.8,20.9,21.0,21.1,21.2,21.3],"format":".2f","labelFontSize":7,"labelColor":"#595959","ticks":false,"domain":false,"grid":true,"gridColor":"#d9d9d9","gridWidth":0.8,"labelOverlap":false,"labelFlush":false,"title":"Temperatur in °C","titleFontSize":6.5,"titleFontWeight":"normal","titleColor":"#595959","titlePadding":4,"labelPadding":3}}},
 "layer":[
  {"data":{"name":"sst"},
   "mark":{"type":"line","strokeWidth":1.4,"interpolate":"monotone"},
   "encoding":{
    "color":{"field":"yr","type":"quantitative","legend":null,"scale":{"domain":[1979,2001,2023],"range":["#5a8ac6","#fcfcff","#f8696b"],"interpolate":"rgb"}},
    "detail":{"field":"yr","type":"nominal"}}},
  {"data":{"values":[{"d":259,"t":21.232,"d2":240,"t2":21.184}]},
   "mark":{"type":"rule","color":"#000000","strokeWidth":0.8},
   "encoding":{"x2":{"field":"d2"},"y2":{"field":"t2"}}},
  {"data":{"values":[{"d":240,"t":21.183}]},
   "mark":{"type":"point","shape":"triangle-left","filled":true,"size":14,"angle":-15,"color":"#000000","opacity":1}},
  {"data":{"values":[{"d":276,"t":21.245,"label":"August 26, 2023"}]},
   "mark":{"type":"text","fontSize":6.5,"color":"#000000","align":"center"},
   "encoding":{"text":{"field":"label","type":"nominal"}}},
  {"data":{"values":[{"d":4,"t":20.42,"label":"August 26, 2023"}]},
   "mark":{"type":"text","fontSize":6.5,"color":"#7f7f7f","align":"left"},
   "encoding":{"text":{"field":"label","type":"nominal"}}}
 ]}
]
}
